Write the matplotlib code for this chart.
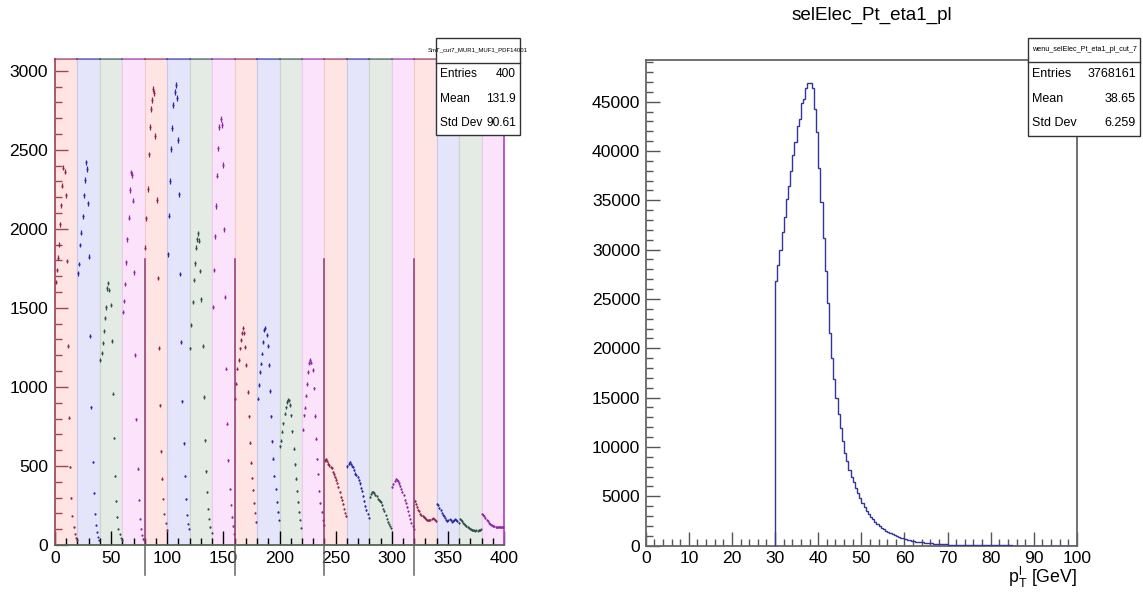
import numpy as np
import matplotlib
matplotlib.use("Agg")
import matplotlib.pyplot as plt
from matplotlib.patches import Rectangle
from matplotlib.lines import Line2D

plt.rcParams['font.family'] = ['Liberation Sans', 'DejaVu Sans']
plt.rcParams['mathtext.fontset'] = 'custom'
plt.rcParams['mathtext.rm'] = 'Liberation Sans'

W, H = 1143, 594

# ---- left pad: 20 scale/pdf variations, 20 bins each ----
grp_00 = [1665, 1740, 1817, 1900, 2028, 2150, 2272, 2386, 2361, 2213, 1796, 1258, 804, 494, 300, 186, 114, 72, 47, 30]
grp_01 = [1718, 1777, 1897, 1975, 2078, 2213, 2308, 2420, 2378, 2161, 1823, 1321, 870, 525, 329, 199, 125, 82, 51, 30]
grp_02 = [1169, 1215, 1275, 1352, 1437, 1503, 1623, 1658, 1612, 1517, 1289, 958, 677, 437, 277, 177, 104, 68, 45, 30]
grp_03 = [1475, 1542, 1650, 1787, 1933, 2070, 2245, 2357, 2340, 2177, 1724, 1200, 796, 483, 283, 167, 104, 61, 40, 30]
grp_04 = [1880, 2066, 2251, 2471, 2646, 2758, 2815, 2882, 2861, 2587, 2182, 1690, 1247, 884, 593, 420, 294, 199, 137, 95]
grp_05 = [1838, 2082, 2302, 2504, 2639, 2783, 2867, 2909, 2825, 2561, 2218, 1713, 1281, 909, 642, 437, 293, 192, 135, 104]
grp_06 = [1243, 1390, 1538, 1675, 1781, 1880, 1933, 1971, 1924, 1732, 1553, 1260, 937, 663, 466, 335, 230, 167, 114, 78]
grp_07 = [1506, 1739, 1954, 2144, 2336, 2509, 2646, 2694, 2656, 2403, 1998, 1570, 1116, 768, 536, 357, 256, 177, 120, 72]
grp_08 = [926, 1021, 1116, 1169, 1243, 1296, 1338, 1370, 1338, 1253, 1137, 969, 815, 646, 521, 424, 346, 265, 205, 146]
grp_09 = [926, 1011, 1095, 1148, 1211, 1285, 1359, 1370, 1327, 1260, 1137, 973, 815, 656, 547, 437, 352, 272, 209, 156]
grp_10 = [625, 660, 715, 770, 830, 870, 905, 920, 915, 885, 820, 720, 610, 510, 420, 340, 270, 210, 160, 110]
grp_11 = [730, 821, 869, 945, 1017, 1093, 1152, 1169, 1154, 1106, 990, 816, 673, 544, 447, 340, 266, 209, 156, 125]
grp_12 = [536, 542, 530, 515, 504, 494, 487, 462, 446, 430, 414, 392, 367, 335, 304, 283, 258, 230, 205, 182]
grp_13 = [498, 515, 525, 511, 500, 494, 473, 452, 441, 430, 409, 389, 363, 342, 308, 277, 245, 220, 199, 173]
grp_14 = [304, 325, 334, 335, 329, 319, 308, 294, 283, 278, 272, 251, 230, 215, 188, 167, 146, 131, 118, 105]
grp_15 = [367, 384, 405, 416, 409, 403, 389, 372, 357, 335, 315, 287, 266, 241, 213, 188, 167, 142, 120, 100]
grp_16 = [277, 258, 241, 224, 213, 199, 188, 184, 177, 171, 163, 156, 156, 158, 161, 167, 169, 167, 161, 152]
grp_17 = [262, 251, 234, 220, 205, 192, 182, 173, 161, 152, 156, 163, 156, 148, 152, 156, 163, 161, 152, 142]
grp_18 = [167, 161, 152, 142, 135, 129, 120, 114, 110, 104, 99, 95, 93, 93, 91, 93, 91, 95, 93, 99]
grp_19 = [199, 192, 184, 171, 161, 152, 139, 135, 129, 125, 120, 118, 114, 112, 114, 116, 114, 112, 114, 114]
groups = [grp_00, grp_01, grp_02, grp_03, grp_04, grp_05, grp_06, grp_07, grp_08, grp_09,
          grp_10, grp_11, grp_12, grp_13, grp_14, grp_15, grp_16, grp_17, grp_18, grp_19]
sep_x = [80, 160, 240, 320]
sep_top = 1810

band_fill = ['#ffe4e4', '#e4e4fb', '#e4ebe4', '#fbe4fb']
band_edge = ['#f2c8c8', '#c8c8ee', '#c8d6c8', '#eec8ee']
mark_col = ['#8c2450', '#2a2aa0', '#2f4f4f', '#8a2a9e']

left_title = 'SmT_cut7_MUR1_MUF1_PDF14001'
left_rows = [('Entries', '400'), ('Mean', '131.9'), ('Std Dev', '90.61')]

# ---- right pad: electron pT, 0.5 GeV bins starting at 30 GeV ----
pt_start = 30.0
pt_width = 0.5
pt_counts = [26860, 28410, 29930, 31820, 33310, 35100, 36480, 37970, 39600, 40910,
             42500, 43240, 44840, 45240, 46360, 46930, 46860, 46420, 44260, 41900,
             38250, 34800, 31150, 27840, 24560, 21580, 19000, 16900, 15000, 13340,
             11890, 10610, 9425, 8546, 7668, 6992, 6418, 5810, 5303, 4797,
             4358, 3952, 3547, 3209, 2939, 2669, 2398, 2196, 1993, 1824,
             1655, 1520, 1385, 1250, 1140, 1040, 950, 870, 790, 720,
             660, 600, 550, 500, 455, 415, 380, 345, 315, 290,
             265, 240, 220, 200, 185, 170, 155, 140, 130, 120,
             110, 100, 92, 85, 78, 72, 66, 61, 56, 52,
             48, 44, 41, 38, 35, 32, 30, 28, 26, 24,
             22, 20, 19, 17, 16, 15, 14, 13, 12, 11,
             10, 9, 9, 8, 8, 7, 7, 6, 6, 5,
             5, 5, 4, 4, 4, 3, 3, 3, 3, 2,
             2, 2, 2, 2, 2, 1, 1, 1, 1, 1]
right_title = 'selElec_Pt_eta1_pl'
right_box_title = 'wenu_selElec_Pt_eta1_pl_cut_7'
right_rows = [('Entries', '3768161'), ('Mean', '38.65'), ('Std Dev', '6.259')]


def fx(x):
    return x / W


def fy(y):
    return 1 - y / H


def stats_box(fig, x0, x1, y0, ysep, y1, title, rows, tsize, row_y, lab_x, val_x, fsize=9):
    fig.add_artist(Rectangle((fx(x0), fy(y1)), (x1 - x0) / W, (y1 - y0) / H,
                             transform=fig.transFigure, fc='white', ec='#333333',
                             lw=1.0, zorder=10))
    fig.add_artist(Line2D([fx(x0), fx(x1)], [fy(ysep), fy(ysep)],
                          transform=fig.transFigure, color='#333333', lw=1.0, zorder=11))
    fig.text(fx((x0 + x1) / 2), fy((y0 + ysep) / 2), title, fontsize=tsize,
             ha='center', va='center', zorder=12)
    for (lab, val), yy in zip(rows, row_y):
        fig.text(fx(lab_x), fy(yy), lab, fontsize=fsize, ha='left', va='center', zorder=12)
        fig.text(fx(val_x), fy(yy), val, fontsize=fsize, ha='right', va='center', zorder=12)


fig = plt.figure(figsize=(W / 100, H / 100), dpi=100)

# ================= left pad =================
ax = fig.add_axes([fx(55), fy(545), 449 / W, 486 / H])
ax.set_xlim(0, 400)
ax.set_ylim(0, 3074)

for k, vals in enumerate(groups):
    lo = k * 20
    ax.axvspan(lo, lo + 20, fc=band_fill[k % 4], ec=band_edge[k % 4], lw=0.8, zorder=0)
    v = np.array(vals, dtype=float)
    xc = lo + np.arange(len(v)) + 0.5
    ax.errorbar(xc, v, yerr=0.35 * np.sqrt(v), fmt='o', ms=1.5, mew=0,
                color=mark_col[k % 4], elinewidth=0.9, capsize=0, zorder=3)
    # top frame segment in the block colour
    ax.plot([lo, lo + 20], [1, 1], transform=ax.get_xaxis_transform(),
            color=mark_col[k % 4], alpha=0.55, lw=1.4, clip_on=False, zorder=4)

for xs in sep_x:
    ax.plot([xs, xs], [0, sep_top], color='#8a3a70', lw=1.1, zorder=4)
    ax.plot([xs, xs], [-190, 0], color='#666666', lw=1.1, clip_on=False, zorder=4)

ax.spines['top'].set_visible(False)
ax.spines['left'].set_color('#a05060')
ax.spines['right'].set_color('#b050c0')
ax.spines['bottom'].set_color('#556655')
for s in ['left', 'right', 'bottom']:
    ax.spines[s].set_linewidth(1.3)

ax.set_xticks(np.arange(0, 401, 10))
ax.set_xticklabels([str(t) if t % 50 == 0 else '' for t in range(0, 401, 10)])
ax.set_yticks(np.arange(0, 3001, 500))
ax.set_yticks(np.arange(0, 3001, 100), minor=True)
ax.tick_params(axis='both', which='both', direction='in', labelsize=12.6)
ax.tick_params(axis='x', which='major', pad=4)
ax.tick_params(axis='y', which='major', length=9.5, width=1.0, color='#a04848', pad=5)
ax.tick_params(axis='y', which='minor', length=5, width=1.0, color='#a04848')
for t, tick in zip(range(0, 401, 10), ax.xaxis.get_major_ticks()):
    gi = min(t // 20, 19)
    tick.tick1line.set_color(mark_col[gi % 4])
    tick.tick1line.set_markersize(10 if t % 50 == 0 else 5)
    tick.tick1line.set_markeredgewidth(1.0)

stats_box(fig, 436, 520, 38, 62.5, 135, left_title, left_rows, 4.3,
          [74, 98.5, 123], 440, 516, fsize=8.6)

# ================= right pad =================
bx = fig.add_axes([fx(645.7), fy(545.6), (1077 - 645.7) / W, 485.6 / H])
edges = pt_start + pt_width * np.arange(len(pt_counts) + 1)
bx.stairs(pt_counts, edges, baseline=0, color='#34349a', lw=1.0, zorder=3)
bx.set_xlim(0, 100)
bx.set_ylim(0, 49220)
bx.set_xticks(np.arange(0, 101, 10))
bx.set_xticks(np.arange(0, 101, 2), minor=True)
bx.set_yticks(np.arange(0, 45001, 5000))
bx.set_yticks(np.arange(0, 49001, 1000), minor=True)
bx.tick_params(axis='both', which='both', direction='in', color='#555555', labelsize=12.6)
bx.tick_params(axis='both', which='major', length=10, width=1.0)
bx.tick_params(axis='both', which='minor', length=5, width=1.0)
bx.tick_params(axis='x', which='major', pad=4)
bx.tick_params(axis='y', which='major', pad=4)
for s in bx.spines.values():
    s.set_color('#666666')
    s.set_linewidth(1.3)

fig.text(fx(1077), fy(577), r'$\mathrm{p}^{\mathrm{l}}_{\mathrm{T}}$ [GeV]',
         fontsize=12.8, ha='right', va='center')
fig.text(fx(872), fy(15), right_title, fontsize=13.6, ha='center', va='center')

stats_box(fig, 1028, 1140, 38, 61.5, 135.5, right_box_title, right_rows, 5.2,
          [74, 98.5, 122.5], 1032, 1136)

fig.savefig('out.png', dpi=100)
